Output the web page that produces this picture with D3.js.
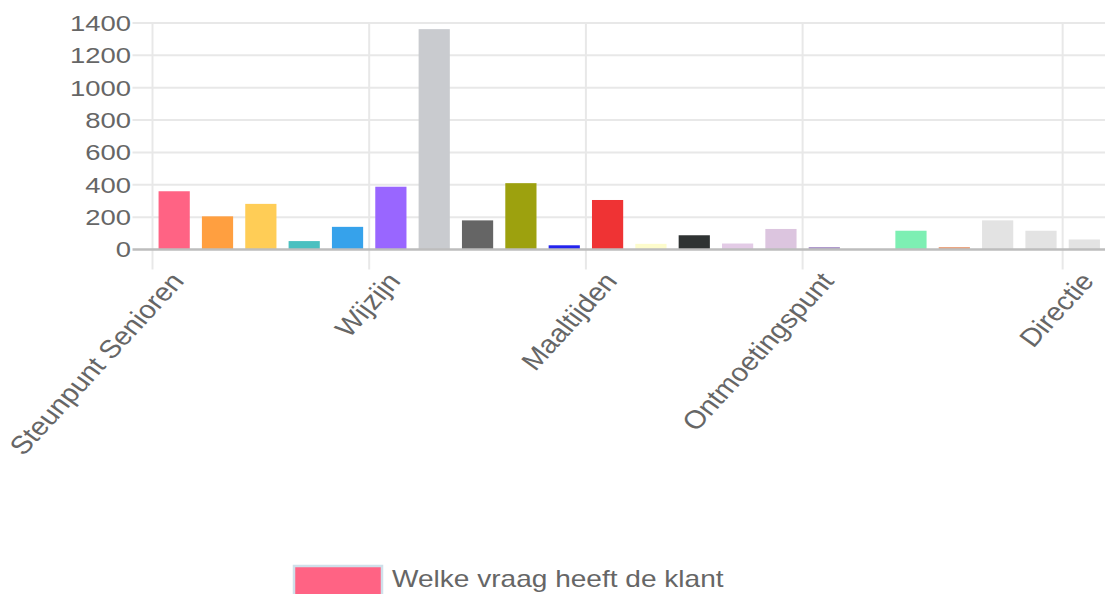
<!DOCTYPE html>
<html>
<head>
<meta charset="utf-8">
<script src="https://cdn.jsdelivr.net/npm/d3@7"></script>
<style>
  body { margin: 0; background: #fff; }
  svg { display: block; font-family: "Liberation Sans", Arial, sans-serif; }
</style>
</head>
<body>
<div id="chart"></div>
<script>
// data
const categories = [
  "Steunpunt Senioren", "Thuiszorg", "Vervoer", "Alarmering", "Boodschappen",
  "Wijzijn", "Mantelzorg", "Klussendienst", "Administratie", "Huisbezoek",
  "Maaltijden", "Sociaal werk", "Dagbesteding", "Vrijwilligers", "Activiteiten",
  "Ontmoetingspunt", "Informatie", "Klachten", "Financiën", "Overig", "Welzijn",
  "Directie"
];
const values = [360, 205, 282, 52, 140, 388, 1362, 180, 410, 26, 306, 35,
                88, 37, 127, 15, 0, 116, 15, 180, 116, 62];
const barColors = [
  "#ff6384", "#ff9f40", "#ffcd56", "#4bc0c0", "#36a2eb", "#9966ff", "#c9cbcf",
  "#656565", "#9da10e", "#2323ee", "#ef3334", "#fdfccc", "#2f3333", "#e3cbe6",
  "#dcc5df", "#a993c9", "#d6d6d6", "#7defb3", "#e9a07a", "#e3e3e3", "#e3e3e3",
  "#e3e3e3"
];
const yTicks = [0, 200, 400, 600, 800, 1000, 1200, 1400];
const shownLabels = [0, 5, 10, 15, 21];
const seriesName = "Welke vraag heeft de klant";

const width = 1105;
const height = 594;
const plotLeft = 152.5;
const plotRight = 1106;
const plotTop = 23;
const plotBottom = 249.5;
const stretch = 1.22;   // reference is wider than tall

const svg = d3.select("#chart")
  .append("svg")
  .attr("width", width)
  .attr("height", height)
  .attr("viewBox", [0, 0, width, height]);

const x = d3.scaleBand()
  .domain(categories)
  .range([plotLeft, plotRight])
  .padding(0);

const y = d3.scaleLinear()
  .domain([0, 1400])
  .range([plotBottom, plotTop]);

// horizontal grid + y labels
const gy = svg.append("g");
gy.selectAll("line")
  .data(yTicks.filter(d => d !== 0))
  .join("line")
    .attr("x1", plotLeft - 20)
    .attr("x2", width)
    .attr("y1", d => y(d))
    .attr("y2", d => y(d))
    .attr("stroke", "#e8e8e8")
    .attr("stroke-width", 2);

gy.selectAll("text")
  .data(yTicks)
  .join("text")
    .attr("transform", d => `translate(131,${y(d)}) scale(${stretch},1)`)
    .attr("text-anchor", "end")
    .attr("dy", "0.35em")
    .attr("fill", "#666")
    .style("font-size", "22.5px")
    .text(d => d);

// vertical grid at the shown ticks (category boundaries)
svg.append("g")
  .selectAll("line")
  .data(shownLabels)
  .join("line")
    .attr("x1", i => x(categories[i]))
    .attr("x2", i => x(categories[i]))
    .attr("y1", plotTop)
    .attr("y2", plotBottom + 20)
    .attr("stroke", "#e8e8e8")
    .attr("stroke-width", 2);

// bars
const barW = x.bandwidth() * 0.72;
svg.append("g")
  .selectAll("rect")
  .data(values)
  .join("rect")
    .attr("x", (d, i) => x(categories[i]) + (x.bandwidth() - barW) / 2)
    .attr("y", d => y(d))
    .attr("width", barW)
    .attr("height", d => y(0) - y(d))
    .attr("fill", (d, i) => barColors[i]);

// zero line
svg.append("line")
  .attr("x1", plotLeft - 20)
  .attr("x2", width)
  .attr("y1", y(0))
  .attr("y2", y(0))
  .attr("stroke", "#bdbdbd")
  .attr("stroke-width", 2.5);

// rotated category labels
svg.append("g")
  .selectAll("text")
  .data(shownLabels)
  .join("text")
    .attr("transform", i => {
      const cx = x(categories[i]) + x.bandwidth() / 2 + 3;
      return `translate(${cx},276) scale(1.14,1) rotate(-51)`;
    })
    .attr("text-anchor", "end")
    .attr("dy", "0.35em")
    .attr("fill", "#666")
    .style("font-size", "25.5px")
    .text(i => categories[i]);

// legend
const legend = svg.append("g");
legend.append("rect")
  .attr("x", 294)
  .attr("y", 566)
  .attr("width", 88)
  .attr("height", 40)
  .attr("fill", barColors[0])
  .attr("stroke", "#cfe0ea")
  .attr("stroke-width", 2.5);
legend.append("text")
  .attr("transform", `translate(392,587) scale(${stretch},1)`)
  .attr("fill", "#666")
  .style("font-size", "23px")
  .text(seriesName);
</script>
</body>
</html>
